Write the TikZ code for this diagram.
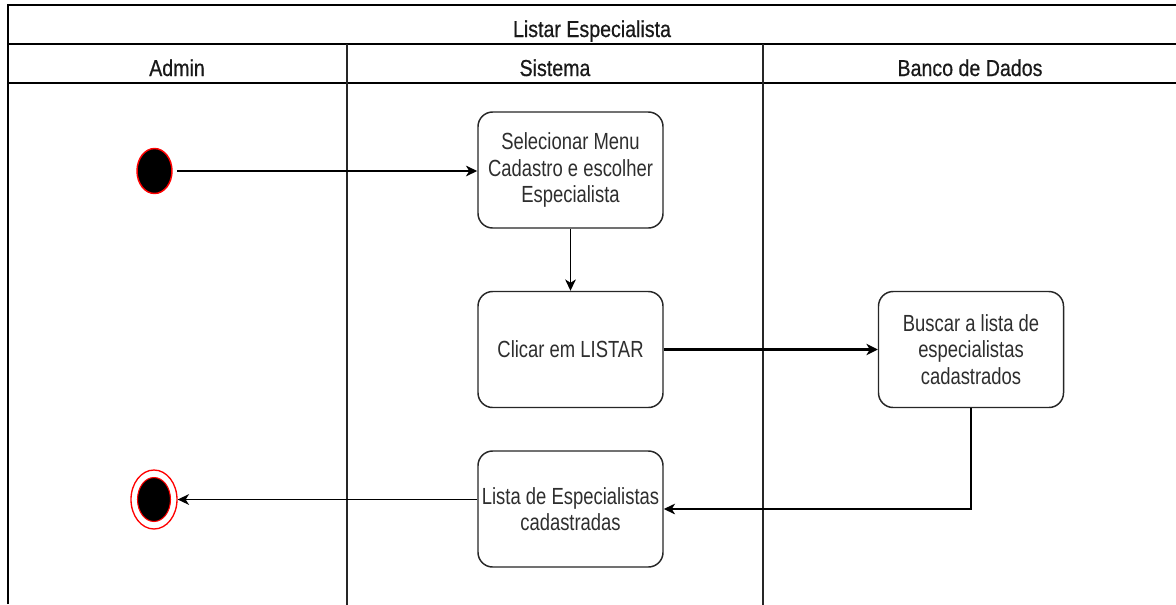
\documentclass[tikz,border=0pt]{standalone}
\usepackage{fontspec}
\usetikzlibrary{arrows.meta,shapes.geometric}
\setmainfont{Liberation Sans}
\newfontfamily\boxfont[FakeStretch=0.79]{Liberation Sans}
\newfontfamily\headfont[FakeStretch=0.85,FakeBold=0.6]{Liberation Sans}
\definecolor{boxtext}{HTML}{2E2E2E}
\tikzset{
  lane/.style={line width=1.5pt, draw=black},
  divider/.style={line width=1.1pt, draw=black!85},
  headtext/.style={font=\headfont\fontsize{17.3pt}{20pt}\selectfont, text=black!90, anchor=base, inner sep=0pt},
  action/.style={draw=black!85, line width=1.1pt, rounded corners=11pt, fill=white,
    minimum width=138.75pt, minimum height=87pt, align=center, text=boxtext,
    font=\boxfont\fontsize{17.5pt}{19.8pt}\selectfont, inner sep=0pt},
  startdot/.style={ellipse, draw=red, line width=1.1pt, fill=black,
    minimum width=26.25pt, minimum height=33.75pt, inner sep=0pt},
  endring/.style={ellipse, draw=red, line width=1pt, fill=white,
    minimum width=34.5pt, minimum height=44.25pt, inner sep=0pt},
  enddot/.style={ellipse, draw=red, line width=0.8pt, fill=black,
    minimum width=24.75pt, minimum height=33pt, inner sep=0pt},
  flow/.style={draw=black, line width=1.15pt, -{Stealth[length=8.5pt,width=8pt,inset=2.5pt]}},
  boldflow/.style={draw=black, line width=2.2pt, -{Stealth[length=8.5pt,width=8.5pt,inset=2.5pt]}}
}
\begin{document}
\begin{tikzpicture}[x=0.75pt, y=-0.75pt]
  \useasboundingbox (0,0) rectangle (1176,604);

  % swimlane pool: title row, header row and lane separators
  \draw[lane] (8,604) -- (8,5) -- (1180,5);
  \draw[lane] (8,44) -- (1180,44);
  \draw[lane] (8,83) -- (1180,83);
  \draw[divider] (347,44) -- (347,606);
  \draw[divider] (763,44) -- (763,606);

  \node[headtext] (title) at (592,37) {Listar Especialista};
  \node[headtext] (admin) at (177,76) {Admin};
  \node[headtext] (sistema) at (555,76) {Sistema};
  \node[headtext] (banco) at (970,76) {Banco de Dados};

  % activity nodes
  \node[startdot] (start) at (154.5,171) {};
  \node[action] (menu) at (570.5,170) {Selecionar Menu\\Cadastro e escolher\\Especialista};
  \node[action] (listar) at (570.5,349.5) {Clicar em LISTAR};
  \node[action] (buscar) at (971,349.5) {Buscar a lista de\\especialistas\\cadastrados};
  \node[action] (lista) at (570.5,509) {Lista de Especialistas\\cadastradas};
  \node[endring] (final) at (154,499.5) {};
  \node[enddot] (finaldot) at (154,499.5) {};

  % control flow
  \draw[flow, shorten <=3.5pt] (start) -- (start -| menu.west);
  \draw[flow] (menu) -- (listar);
  \draw[boldflow] (listar) -- (buscar);
  \draw[flow] (buscar.south) |- (lista.east);
  \draw[flow] (lista.west |- final) -- (final);
\end{tikzpicture}
\end{document}
